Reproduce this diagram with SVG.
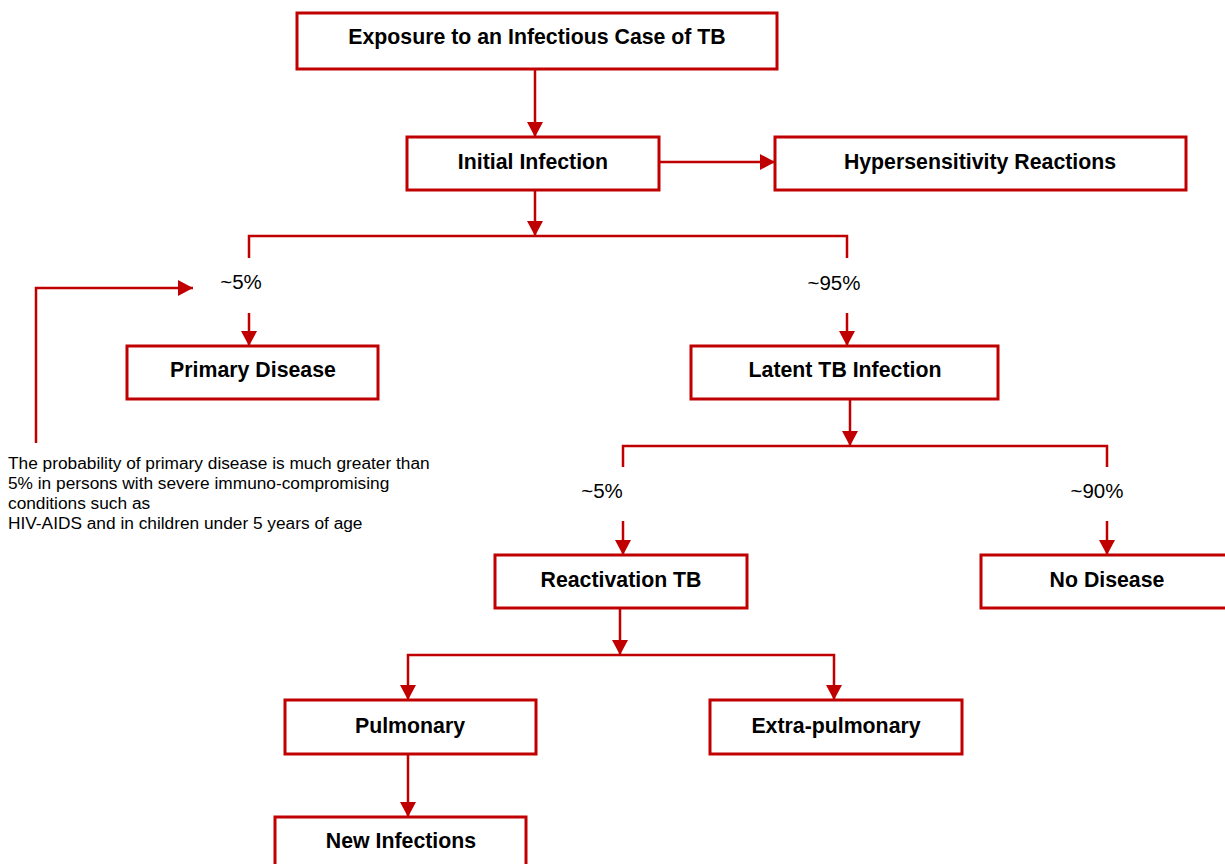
<svg xmlns="http://www.w3.org/2000/svg" width="1225" height="864" viewBox="0 0 1225 864">
<defs>
<marker id="ah" markerWidth="15" markerHeight="16" viewBox="0 0 15 16" refX="15" refY="8" orient="auto" markerUnits="userSpaceOnUse">
<path d="M0,0 L15,8 L0,16 Z" fill="#c00000"/>
</marker>
<style>
.box{fill:#fff;stroke:#c00000;stroke-width:3}
.lbl{font-family:"Liberation Sans",Arial,sans-serif;font-weight:bold;font-size:21.3px;fill:#000;text-anchor:middle}
.pct{font-family:"Liberation Sans",Arial,sans-serif;font-size:20.5px;fill:#000;text-anchor:middle}
.note{font-family:"Liberation Sans",Arial,sans-serif;font-size:17.3px;fill:#000}
.ln{fill:none;stroke:#c00000;stroke-width:2.5}
.ar{fill:none;stroke:#c00000;stroke-width:2.5;marker-end:url(#ah)}
</style>
</defs>
<rect width="1225" height="864" fill="#fff"/>
<g id="connectors">
<line class="ar" x1="535" y1="69" x2="535" y2="137"/>
<line class="ar" x1="659" y1="162" x2="775" y2="162"/>
<line class="ar" x1="535" y1="190" x2="535" y2="236"/>
<polyline class="ln" points="249,258 249,236 847,236 847,258"/>
<line class="ar" x1="249" y1="313" x2="249" y2="346"/>
<line class="ar" x1="847" y1="313" x2="847" y2="346"/>
<polyline class="ar" points="36,443 36,288 193,288"/>
<line class="ar" x1="850" y1="399" x2="850" y2="446"/>
<polyline class="ln" points="623,467 623,446 1107,446 1107,467"/>
<line class="ar" x1="623" y1="521" x2="623" y2="555"/>
<line class="ar" x1="1107" y1="521" x2="1107" y2="555"/>
<line class="ar" x1="620" y1="608" x2="620" y2="655"/>
<polyline class="ar" points="620,655 408,655 408,700"/>
<polyline class="ar" points="620,655 834,655 834,700"/>
<line class="ar" x1="408" y1="754" x2="408" y2="817"/>
</g>
<g id="labels">
<text class="pct" x="241" y="289">~5%</text>
<text class="pct" x="834" y="290">~95%</text>
<text class="pct" x="602" y="498">~5%</text>
<text class="pct" x="1097" y="498">~90%</text>
</g>
<g id="note">
<text class="note" x="8" y="469">The probability of primary disease is much greater than</text>
<text class="note" x="8" y="489">5% in persons with severe immuno-compromising</text>
<text class="note" x="8" y="509">conditions such as</text>
<text class="note" x="8" y="529">HIV-AIDS and in children under 5 years of age</text>
</g>
<g id="exposure"><rect class="box" x="297" y="13" width="480" height="56"/><text class="lbl" x="537" y="44">Exposure to an Infectious Case of TB</text></g>
<g id="initial"><rect class="box" x="407" y="137" width="252" height="53"/><text class="lbl" x="533" y="169">Initial Infection</text></g>
<g id="hyper"><rect class="box" x="775" y="137" width="411" height="53"/><text class="lbl" x="980" y="169">Hypersensitivity Reactions</text></g>
<g id="primary"><rect class="box" x="127" y="346" width="251" height="53"/><text class="lbl" x="253" y="377">Primary Disease</text></g>
<g id="latent"><rect class="box" x="691" y="346" width="307" height="53"/><text class="lbl" x="845" y="377">Latent TB Infection</text></g>
<g id="reactivation"><rect class="box" x="495" y="555" width="252" height="53"/><text class="lbl" x="621" y="587">Reactivation TB</text></g>
<g id="nodisease"><rect class="box" x="981" y="555" width="252" height="53"/><text class="lbl" x="1107" y="587">No Disease</text></g>
<g id="pulmonary"><rect class="box" x="285" y="700" width="251" height="54"/><text class="lbl" x="410" y="733">Pulmonary</text></g>
<g id="extrapulmonary"><rect class="box" x="710" y="700" width="252" height="54"/><text class="lbl" x="836" y="733">Extra-pulmonary</text></g>
<g id="newinfections"><rect class="box" x="275" y="817" width="251" height="56"/><text class="lbl" x="401" y="848">New Infections</text></g>
</svg>
